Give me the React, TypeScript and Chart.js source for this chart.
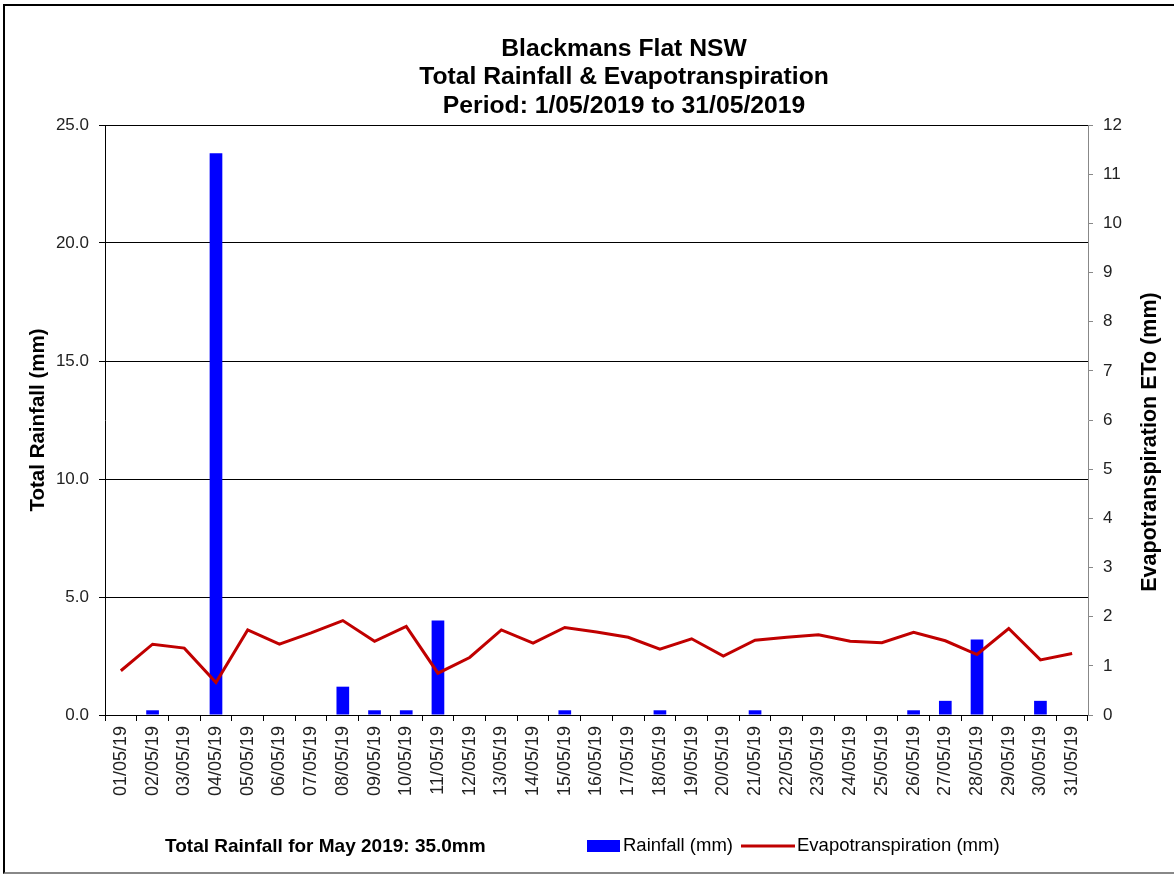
import React, { useEffect, useRef } from "react";
import { Chart, registerables } from "chart.js";

Chart.register(...registerables);

const dates = [
  "01/05/19", "02/05/19", "03/05/19", "04/05/19", "05/05/19", "06/05/19", "07/05/19", "08/05/19",
  "09/05/19", "10/05/19", "11/05/19", "12/05/19", "13/05/19", "14/05/19", "15/05/19", "16/05/19",
  "17/05/19", "18/05/19", "19/05/19", "20/05/19", "21/05/19", "22/05/19", "23/05/19", "24/05/19",
  "25/05/19", "26/05/19", "27/05/19", "28/05/19", "29/05/19", "30/05/19", "31/05/19",
];

const rainfall = [
  0, 0.2, 0, 23.8, 0, 0, 0, 1.2, 0.2, 0.2, 4.0, 0, 0, 0, 0.2, 0,
  0, 0.2, 0, 0, 0.2, 0, 0, 0, 0, 0.2, 0.6, 3.2, 0, 0.6, 0,
];

const evapotranspiration = [
  0.9, 1.44, 1.36, 0.66, 1.73, 1.44, 1.67, 1.92, 1.5, 1.8, 0.85, 1.17, 1.73, 1.46, 1.78, 1.69,
  1.58, 1.34, 1.55, 1.2, 1.52, 1.58, 1.63, 1.5, 1.47, 1.68, 1.51, 1.23, 1.76, 1.12, 1.25,
];

const titleLines = [
  "Blackmans Flat NSW",
  "Total Rainfall & Evapotranspiration",
  "Period: 1/05/2019 to 31/05/2019",
];
const leftAxisTitle = "Total Rainfall (mm)";
const rightAxisTitle = "Evapotranspiration ETo (mm)";
const footerText = "Total Rainfall for May 2019: 35.0mm";
const rainLegend = "Rainfall (mm)";
const etLegend = "Evapotranspiration (mm)";

const FONT = "'Liberation Sans', Arial, sans-serif";
const RAIN_COLOR = "#0000FF";
const ET_COLOR = "#C00000";

const textPlugin = {
  id: "customText",
  afterDraw(chart: any) {
    const ctx = chart.ctx as CanvasRenderingContext2D;
    const area = chart.chartArea;
    ctx.save();
    ctx.fillStyle = "#000";
    ctx.textAlign = "center";
    ctx.textBaseline = "middle";
    ctx.font = `bold 24.7px ${FONT}`;
    titleLines.forEach((t, i) => ctx.fillText(t, 624, 49 + i * 28.5));

    // left axis title
    ctx.save();
    ctx.translate(38, (area.top + area.bottom) / 2);
    ctx.rotate(-Math.PI / 2);
    ctx.font = `bold 20.5px ${FONT}`;
    ctx.fillText(leftAxisTitle, 0, 0);
    ctx.restore();

    // right axis title
    ctx.save();
    ctx.translate(1150, 442);
    ctx.rotate(-Math.PI / 2);
    ctx.font = `bold 21.5px ${FONT}`;
    ctx.fillText(rightAxisTitle, 0, 0);
    ctx.restore();

    // footer
    ctx.textAlign = "left";
    ctx.font = `bold 19px ${FONT}`;
    ctx.fillText(footerText, 165, 847);

    // legend
    ctx.fillStyle = RAIN_COLOR;
    ctx.fillRect(587, 840, 33, 12);
    ctx.fillStyle = "#000";
    ctx.font = `18.5px ${FONT}`;
    ctx.fillText(rainLegend, 623, 846);
    ctx.strokeStyle = ET_COLOR;
    ctx.lineWidth = 3;
    ctx.beginPath();
    ctx.moveTo(741, 846);
    ctx.lineTo(795, 846);
    ctx.stroke();
    ctx.fillText(etLegend, 797, 846);
    ctx.restore();
  },
};

export default function App() {
  const canvasRef = useRef<HTMLCanvasElement | null>(null);

  useEffect(() => {
    const canvas = canvasRef.current;
    if (!canvas) return;
    Chart.defaults.font.family = FONT;
    const chart = new Chart(canvas, {
      type: "bar",
      data: {
        labels: dates,
        datasets: [
          {
            type: "line",
            label: etLegend,
            data: evapotranspiration,
            borderColor: ET_COLOR,
            backgroundColor: ET_COLOR,
            borderWidth: 3,
            pointRadius: 0,
            tension: 0,
            yAxisID: "y1",
            order: 1,
          } as any,
          {
            type: "bar",
            label: rainLegend,
            data: rainfall,
            backgroundColor: RAIN_COLOR,
            barPercentage: 0.4,
            categoryPercentage: 1.0,
            yAxisID: "y",
            order: 2,
          } as any,
        ],
      },
      options: {
        responsive: false,
        animation: false,
        devicePixelRatio: 1,
        layout: { padding: { top: 125, left: 0, right: 0, bottom: 0 } },
        plugins: {
          legend: { display: false },
          title: { display: false },
          tooltip: { enabled: false },
        },
        scales: {
          x: {
            type: "category",
            offset: true,
            grid: {
              display: true,
              drawOnChartArea: false,
              drawTicks: true,
              tickLength: 6,
              color: "#000",
              offset: true,
            },
            border: { display: true, color: "#000", width: 1 },
            ticks: {
              autoSkip: false,
              minRotation: 90,
              maxRotation: 90,
              padding: 5,
              color: "#222",
              font: { size: 18, family: FONT },
            },
            afterFit(s: any) {
              s.height = 160;
            },
          },
          y: {
            position: "left",
            min: 0,
            max: 25,
            ticks: {
              stepSize: 5,
              padding: 10,
              color: "#222",
              font: { size: 17, family: FONT },
              callback: (v: any) => Number(v).toFixed(1),
            },
            grid: { color: "#000", tickLength: 6, drawTicks: true, lineWidth: 1 },
            border: { display: true, color: "#000", width: 1 },
            afterFit(s: any) {
              s.width = 105;
            },
          },
          y1: {
            position: "right",
            min: 0,
            max: 12,
            ticks: {
              stepSize: 1,
              padding: 10,
              color: "#222",
              font: { size: 17, family: FONT },
            },
            grid: { drawOnChartArea: false, color: "#888", tickLength: 5, drawTicks: true },
            border: { display: true, color: "#888", width: 1 },
            afterFit(s: any) {
              s.width = 86;
            },
          },
        },
      } as any,
      plugins: [textPlugin],
    });
    return () => chart.destroy();
  }, []);

  return (
    <div
      style={{
        position: "absolute",
        left: 0,
        top: 0,
        width: 1174,
        height: 875,
        background: "#fff",
        overflow: "hidden",
      }}
    >
      <div
        style={{
          position: "absolute",
          left: 3,
          top: 4,
          right: 0,
          bottom: 1,
          borderTop: "2px solid #000",
          borderLeft: "2px solid #000",
          borderBottom: "2px solid #888",
        }}
      />
      <canvas
        ref={canvasRef}
        width={1174}
        height={875}
        style={{ position: "absolute", left: 0, top: 0 }}
      />
    </div>
  );
}
